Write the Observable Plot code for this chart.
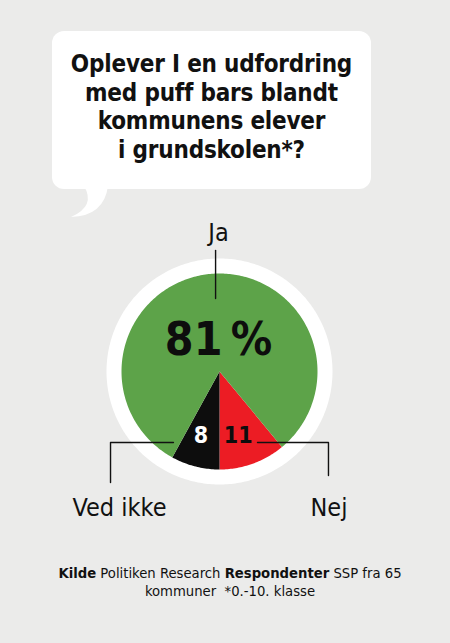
<!DOCTYPE html>
<html>
<head>
<meta charset="utf-8">
<script src="https://cdn.jsdelivr.net/npm/d3@7"></script>
<script src="https://cdn.jsdelivr.net/npm/@observablehq/plot@0.6"></script>
<style>
  html, body { margin: 0; padding: 0; background: #ebebea; }
  #page { position: relative; width: 450px; height: 643px; overflow: hidden; background: #ebebea;
          font-family: "DejaVu Sans Condensed", "Liberation Sans Narrow", sans-serif; color: #111; }
  #bubble { position: absolute; left: 52px; top: 31px; width: 319px; height: 158px; background: #fff; border-radius: 12px; }
  #tail { position: absolute; left: 0; top: 0; }
  #title { position: absolute; left: 52px; top: 50px; width: 319px; text-align: center;
           font-weight: bold; font-size: 24px; line-height: 28.5px; letter-spacing: -0.2px; margin: 0; }
  #chart { position: absolute; left: 0; top: 205px; }
  #caption { position: absolute; left: 0; width: 460px; top: 564px; text-align: center; font-size: 14.7px; line-height: 18px; }
  #caption b { font-weight: bold; }
</style>
</head>
<body>
<div id="page">
  <div id="bubble"></div>
  <svg id="tail" width="450" height="643"><path d="M84 186 Q96 206 71 217 Q104 216 108 186 Z" fill="#fff"/></svg>
  <h1 id="title">Oplever I en udfordring<br>med puff bars blandt<br>kommunens elever<br>i grundskolen*?</h1>
  <div id="chart"></div>
  <div id="caption"><b>Kilde</b> Politiken Research <b>Respondenter</b> SSP fra 65<br>kommuner&nbsp; *0.-10. klasse</div>
</div>
<script>
// ---- data ----
const categories = ["Nej", "Ved ikke", "Ja"];
const values = [11, 8, 81];
const colors = ["#ec1c24", "#0d0d0d", "#5da349"];
const valueLabels = ["11", "8", "81\u2009%"];
const labelColors = ["#0d0d0d", "#ffffff", "#0d0d0d"];

// ---- geometry (layout) ----
const W = 450, H = 330;
const R = 98;            // pie radius, px
const cx = 219, cy = 166; // pie centre inside svg, px
const ringR = 113 / R;   // white ring radius (units)

const total = d3.sum(values);
const startAngle = Math.PI - (values[0] / total) * 2 * Math.PI;
const pie = d3.pie().sort(null).value(d => d.value).startAngle(startAngle).endAngle(startAngle + 2 * Math.PI);
const rows = categories.map((c, i) => ({category: c, value: values[i], color: colors[i], label: valueLabels[i], labelColor: labelColors[i]}));
const arcs = pie(rows);

const pt = (a, r) => ({x: r * Math.sin(a), y: r * Math.cos(a)});

const slicePts = [];
arcs.forEach(a => {
  const n = Math.max(8, Math.ceil((a.endAngle - a.startAngle) * 60));
  slicePts.push({cat: a.data.category, color: a.data.color, ...pt(0, 0)});
  for (let k = 0; k <= n; k++) {
    const t = a.startAngle + (a.endAngle - a.startAngle) * k / n;
    slicePts.push({cat: a.data.category, color: a.data.color, ...pt(t, 1)});
  }
  slicePts.push({cat: a.data.category, color: a.data.color, ...pt(0, 0)});
});
const ringPts = d3.range(0, 361).map(k => pt(k * Math.PI / 180, ringR));

const byCat = Object.fromEntries(arcs.map(a => [a.data.category, a]));
const side = c => Math.sign(Math.sin((byCat[c].startAngle + byCat[c].endAngle) / 2));
const numY = -0.655;
const smallLabels = ["Nej", "Ved ikke"].map(c => ({x: 0.19 * side(c), y: numY, text: byCat[c].data.label, color: byCat[c].data.labelColor}));
const bigLabel = [{x: -0.01, y: 0.32, text: byCat["Ja"].data.label}];

const leaderY = -0.724;
const leaders = [
  [{x: -0.04, y: 1.235}, {x: -0.04, y: 0.745}],
  [{x: -0.47, y: leaderY}, {x: -1.112, y: leaderY}, {x: -1.112, y: -1.133}],
  [{x: 0.388, y: leaderY}, {x: 1.112, y: leaderY}, {x: 1.112, y: -1.061}]
];
const leaderPts = leaders.flatMap((l, i) => l.map(p => ({...p, id: i})));
const catText = [
  {x: -0.01, y: 1.41, text: "Ja"},
  {x: -1.02, y: -1.39, text: "Ved ikke"},
  {x: 1.117, y: -1.39, text: "Nej"}
];

const font = '"DejaVu Sans Condensed", "Liberation Sans Narrow", sans-serif';

const chart = Plot.plot({
  width: W, height: H,
  margin: 0,
  style: {background: "transparent", overflow: "visible"},
  x: {domain: [-cx / R, (W - cx) / R], axis: null},
  y: {domain: [-(H - cy) / R, cy / R], axis: null},
  color: {type: "identity"},
  marks: [
    Plot.line(ringPts, {x: "x", y: "y", fill: "#ffffff", stroke: null, curve: "linear"}),
    Plot.line(slicePts, {x: "x", y: "y", z: "cat", fill: "color", stroke: null, curve: "linear"}),
    Plot.line(leaderPts, {x: "x", y: "y", z: "id", stroke: "#111", strokeWidth: 1.4, curve: "linear"}),
    Plot.text(bigLabel, {x: "x", y: "y", text: "text", fill: "#0d0d0d", fontSize: 46, fontWeight: "bold", fontFamily: font}),
    Plot.text(smallLabels, {x: "x", y: "y", text: "text", fill: "color", fontSize: 23, fontWeight: "bold", fontFamily: font}),
    Plot.text(catText, {x: "x", y: "y", text: "text", fill: "#111", fontSize: 25, fontFamily: font})
  ]
});
document.getElementById("chart").appendChild(chart);
</script>
</body>
</html>
